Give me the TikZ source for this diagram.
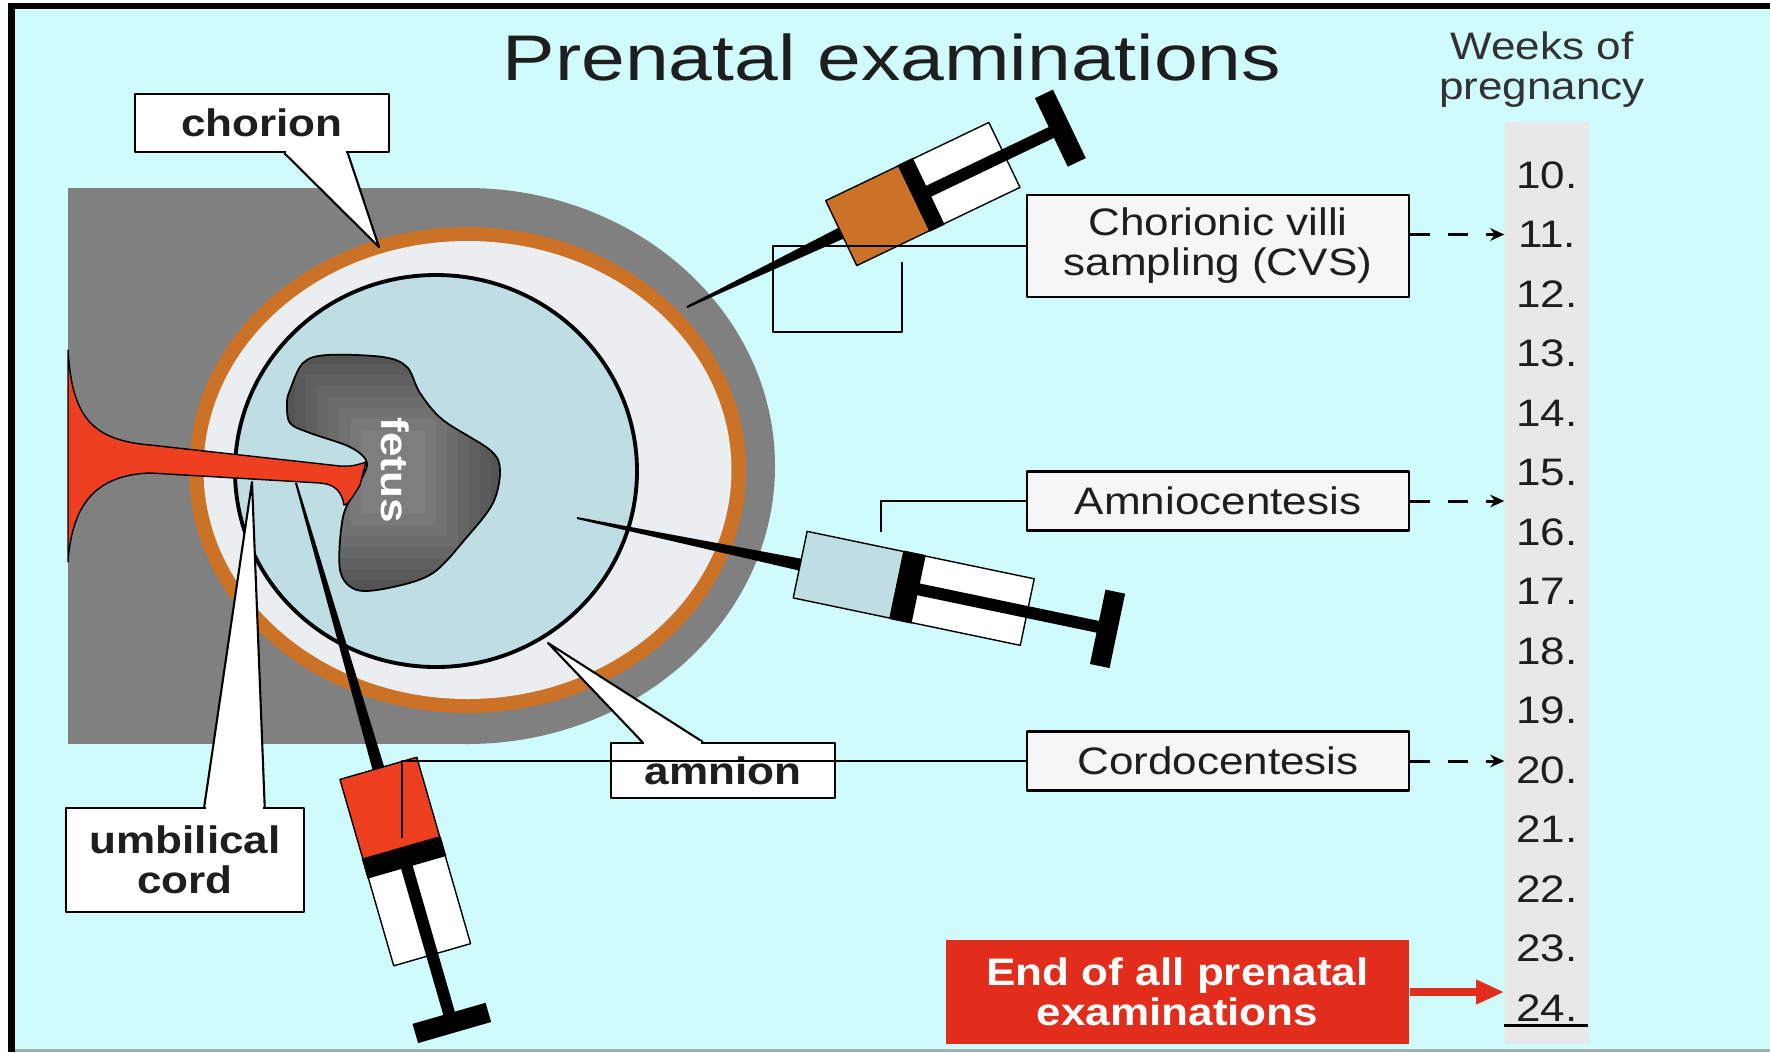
\documentclass[tikz,border=0pt]{standalone}
\usepackage{fontspec}
\setmainfont[FakeStretch=1.15]{Liberation Sans}
\newfontfamily\titlefont[FakeStretch=1.22]{Liberation Sans}
\usetikzlibrary{arrows.meta,calc}

\definecolor{bgcyan}{RGB}{208,251,252}
\definecolor{placenta}{RGB}{128,128,128}
\definecolor{chorionbrown}{RGB}{204,114,38}
\definecolor{bandgray}{RGB}{234,238,240}
\definecolor{fluid}{RGB}{190,222,228}
\definecolor{cordred}{RGB}{238,64,32}
\definecolor{endred}{RGB}{226,44,28}
\definecolor{weekgray}{RGB}{232,232,232}
\definecolor{boxwhite}{RGB}{246,246,246}
\definecolor{textgray}{RGB}{30,30,30}
\definecolor{headgray}{RGB}{50,50,50}

\begin{document}
\begin{tikzpicture}[x=0.1mm, y=-0.1mm, line join=round,
  every node/.style={font=\fontsize{10.9}{11.4}\selectfont, text=textgray},
  labelbox/.style={draw, line width=0.6pt, fill=white, align=center, inner sep=0pt,
    font=\bfseries\fontsize{10.9}{11.4}\selectfont},
  pointer/.style={draw, line width=0.6pt, fill=white},
  exambox/.style={draw, line width=0.7pt, fill=boxwhite, align=center, inner sep=0pt,
    minimum width=38.2mm},
  endbox/.style={fill=endred, text=white, align=center, inner sep=0pt,
    minimum width=46.3mm, minimum height=10.4mm, font=\bfseries\fontsize{10.9}{11.4}\selectfont},
  leader/.style={line width=0.6pt},
  weekarrow/.style={line width=0.85pt, dash pattern=on 5.7pt off 5.1pt,
    -{Stealth[length=4pt,width=3.6pt]}},
  endarrow/.style={draw=endred, line width=2.3pt, -{Triangle[length=8pt,width=6.5pt]}}]
\useasboundingbox (0,0) rectangle (1770,1052);
\fill[white] (0,0) rectangle (1770,1052);
\fill[black] (8,3) rectangle (1770,1052);
\fill[bgcyan] (15,9) rectangle (1770,1049);
\fill[placenta!60!bgcyan] (15,1049) rectangle (1770,1052);

\node[anchor=base, font=\titlefont\fontsize{18.35}{22}\selectfont] (title) at (892,80) {Prenatal examinations};
\node[align=center, inner sep=0pt, text=headgray] (weeks) at (1542,70) {Weeks of\\pregnancy};

\fill[placenta] (68,188) rectangle (467,744);
\fill[placenta] (467,466) ellipse [x radius=308, y radius=278];
\fill[chorionbrown] (467.5,470) ellipse [x radius=278.5, y radius=243];
\fill[bandgray] (467.5,470) ellipse [x radius=264, y radius=229];
\filldraw[fill=fluid, line width=1.1pt] (436,471) ellipse [x radius=201, y radius=196];

\draw[fill={rgb,255:red,78;green,78;blue,78}, line width=0.5pt, path picture={
    \foreach \k in {1,...,8} {
      \pgfmathtruncatemacro{\lev}{78+6*\k}
      \fill[fill={rgb,255:red,\lev;green,\lev;blue,\lev}]
        ({393-120+11*\k},{472-130+11*\k}) rectangle ({393+120-11*\k},{472+130-11*\k});
    }}]
  plot[smooth cycle, tension=0.55] coordinates {(290,390) (303,363) (327,355) (383,357)
    (407,367) (420,393) (443,420) (490,450) (500,470) (493,503) (467,537) (433,573)
    (393,587) (357,590) (340,570) (343,517) (357,487) (367,463) (350,447) (310,433)
    (290,423) (287,403)};
\node[rotate=-90, text=white, font=\bfseries\fontsize{10.9}{11.4}\selectfont] (fetus) at (395,470) {fetus};

\filldraw[fill=cordred, line width=0.4pt] (68,350) .. controls (72,415) and (90,440) .. (150,445)
  -- (340,466) .. controls (352,467) and (360,464) .. (366,462)
  -- (360,485) .. controls (354,495) and (348,505) .. (344,505)
  .. controls (342,492) and (335,484) .. (320,483)
  -- (150,473) .. controls (95,475) and (72,505) .. (68,562) -- cycle;

\coordinate (chorionpt) at (379,247);
\coordinate (amnionpt) at (548,643);
\coordinate (cordpt) at (252,482);

\node[labelbox, minimum width=25.4mm, minimum height=5.8mm] (chorion) at (262,123) {chorion};
\filldraw[pointer] ($(chorion.south west)!0.587!(chorion.south east)$) -- (chorionpt)
  -- ($(chorion.south west)!0.835!(chorion.south east)$);
\fill[white] ($(chorion.south west)!0.593!(chorion.south east)+(0,-3)$)
  rectangle ($(chorion.south west)!0.829!(chorion.south east)+(0,1)$);

\node[labelbox, minimum width=22.4mm, minimum height=5.5mm] (amnion) at (723,770.5) {amnion};
\filldraw[pointer] ($(amnion.north west)!0.143!(amnion.north east)$) -- (amnionpt)
  -- ($(amnion.north west)!0.411!(amnion.north east)$);
\fill[white] ($(amnion.north west)!0.15!(amnion.north east)+(0,3)$)
  rectangle ($(amnion.north west)!0.404!(amnion.north east)+(0,-1)$);

\node[labelbox, minimum width=23.8mm, minimum height=10.4mm] (umbilical) at (185,860) {umbilical\\cord};
\filldraw[pointer] ($(umbilical.north west)!0.58!(umbilical.north east)$) -- (cordpt)
  -- ($(umbilical.north west)!0.832!(umbilical.north east)$);
\fill[white] ($(umbilical.north west)!0.586!(umbilical.north east)+(0,3)$)
  rectangle ($(umbilical.north west)!0.826!(umbilical.north east)+(0,-1)$);

\foreach \tx/\ty/\ang/\col/\front/\band/\bandw/\back/\hand/\wd in
  {687/307/25.6/chorionbrown/171/252/16/352/414/72,
   577/518/-11.8/fluid/228/327/22/460/542/68,
   296/483/-73.9/cordred/297/380/20/491/562/80} {
  \begin{scope}[shift={(\tx,\ty)}, rotate=\ang]
    \fill (0,-1) -- (\front,-6) -- (\front,6) -- (0,1) -- cycle;
    \filldraw[fill=\col, line width=0.4pt] (\front,{-\wd/2}) rectangle (\band,{\wd/2});
    \filldraw[fill=white, line width=0.4pt] (\band,{-\wd/2}) rectangle (\back,{\wd/2});
    \fill (\band,-6) rectangle (\hand,6);
    \fill (\band,{-\wd/2-1}) rectangle ({\band+\bandw},{\wd/2+1});
    \fill ({\hand-10},-38) rectangle ({\hand+10},38);
  \end{scope}
}

\node[fill=weekgray, minimum width=8.4mm, minimum height=92.2mm, inner sep=0pt] (col) at (1547,583) {};
\foreach \n in {10,...,24} {
  \pgfmathsetmacro{\wy}{175+(\n-10)*59.5}
  \node (w\n) at (1547,\wy) {\n.};
}
\draw[line width=1pt] (col.west |- w24.base) ++(0,4) -- ++(84,0);

\node[exambox, minimum height=10.2mm] (cvs) at (1218,246) {Chorionic villi\\sampling (CVS)};
\node[exambox, minimum height=5.9mm] (amnio) at (1218,501) {Amniocentesis};
\node[exambox, minimum height=5.9mm] (cordo) at (1218,761) {Cordocentesis};
\node[endbox] (endbox) at (1177.5,992) {End of all prenatal\\examinations};

\coordinate (cvsmark) at (902,262);
\coordinate (amniomark) at (881,532);
\coordinate (cordomark) at (402,838);
\draw[leader] (cvs.west) -| (773,332) -| (cvsmark);
\draw[leader] (amnio.west) -| (amniomark);
\draw[leader] (cordo.west) -| (cordomark);

\draw[weekarrow] (cvs.east |- w11) -- (col.west |- w11);
\draw[weekarrow] (amnio.east) -- (amnio.east -| col.west);
\draw[weekarrow] (cordo.east) -- (cordo.east -| col.west);
\draw[endarrow] (endbox.east) -- (endbox.east -| col.west);
\end{tikzpicture}
\end{document}
